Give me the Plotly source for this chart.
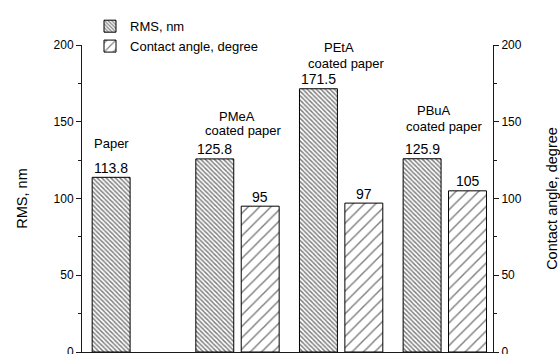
import plotly.graph_objects as go

# Samples, and the two measured quantities for each
samples = ["Paper", "PMeA coated paper", "PEtA coated paper", "PBuA coated paper"]
rms_nm = [113.8, 125.8, 171.5, 125.9]
contact_angle_deg = [None, 95, 97, 105]

# Sample annotations drawn above each group (name line, second line)
label_line1 = ["Paper", "PMeA", "PEtA", "PBuA"]
label_line2 = ["", "coated paper", "coated paper", "coated paper"]

FONT = "Arial, Liberation Sans, sans-serif"
AXIS_COLOR = "#1a1a1a"

x_idx = list(range(len(samples)))
bar_w = 0.366
rms_off = -0.402
ca_off = 0.036

fig = go.Figure()

fig.add_trace(go.Bar(
    name="RMS, nm",
    x=x_idx, y=rms_nm,
    width=bar_w, offset=rms_off,
    marker=dict(color="white", line=dict(color="black", width=1),
                pattern=dict(shape="\\", size=3.2, solidity=0.45,
                             fgcolor="black", bgcolor="white")),
    yaxis="y",
))

fig.add_trace(go.Bar(
    name="Contact angle, degree",
    x=x_idx, y=contact_angle_deg,
    width=bar_w, offset=ca_off,
    marker=dict(color="white", line=dict(color="black", width=1),
                pattern=dict(shape="/", size=8, solidity=0.18,
                             fgcolor="black", bgcolor="white")),
    yaxis="y2",
))

# Value labels sitting on top of each bar
value_font = dict(size=14, color="black", family=FONT)
for i in x_idx:
    fig.add_annotation(x=i + rms_off + bar_w / 2, y=rms_nm[i], xref="x", yref="y",
                       text=f"{rms_nm[i]:.1f}", showarrow=False,
                       yanchor="bottom", yshift=-0.5, font=value_font)
    if contact_angle_deg[i] is not None:
        fig.add_annotation(x=i + ca_off + bar_w / 2, y=contact_angle_deg[i], xref="x", yref="y2",
                           text=f"{contact_angle_deg[i]:g}", showarrow=False,
                           yanchor="bottom", yshift=-0.5, font=value_font)

# Sample name annotations (positions in axis units)
line1_pos = [(-0.219, 136), (1.0, 153.7), (1.98, 198.7), (2.9, 157.6)]
line2_pos = [None, (1.055, 144), (2.055, 188), (3.0, 146.6)]
for i in x_idx:
    x1, y1 = line1_pos[i]
    fig.add_annotation(x=x1, y=y1, text=label_line1[i], showarrow=False,
                       xref="x", yref="y", font=dict(size=13, color="black", family=FONT))
    if label_line2[i]:
        x2, y2 = line2_pos[i]
        fig.add_annotation(x=x2, y=y2, text=label_line2[i], showarrow=False,
                           xref="x", yref="y", font=dict(size=13, color="black", family=FONT))

axis_common = dict(
    range=[0, 200], dtick=50, showgrid=False, zeroline=False,
    showline=True, linecolor=AXIS_COLOR, linewidth=1,
    ticks="outside", ticklen=5, tickcolor=AXIS_COLOR,
    tickfont=dict(size=12, color="black", family=FONT),
    ticklabeloverflow="allow", automargin=False,
    minor=dict(dtick=25, ticks="outside", ticklen=3, tickcolor=AXIS_COLOR),
)

fig.update_layout(
    width=560, height=354,
    margin=dict(l=82, r=67, t=45, b=2),
    paper_bgcolor="white", plot_bgcolor="white",
    barmode="overlay",
    font=dict(family=FONT, color="black"),
    xaxis=dict(range=[-0.5, 3.465], showticklabels=False, ticks="",
               showgrid=False, zeroline=False, automargin=False,
               showline=True, linecolor=AXIS_COLOR, linewidth=1),
    yaxis=dict(**axis_common,
               title=dict(text="RMS, nm", font=dict(size=14.5, family=FONT), standoff=22)),
    yaxis2=dict(**axis_common, overlaying="y", side="right",
                title=dict(text="Contact angle, degree", font=dict(size=14.5, family=FONT), standoff=27)),
    legend=dict(x=0.0195, y=1.11, xanchor="left", yanchor="top",
                font=dict(size=13, family=FONT), bgcolor="rgba(0,0,0,0)",
                tracegroupgap=0, itemwidth=30),
    showlegend=True,
)

fig.write_html("out.html")
